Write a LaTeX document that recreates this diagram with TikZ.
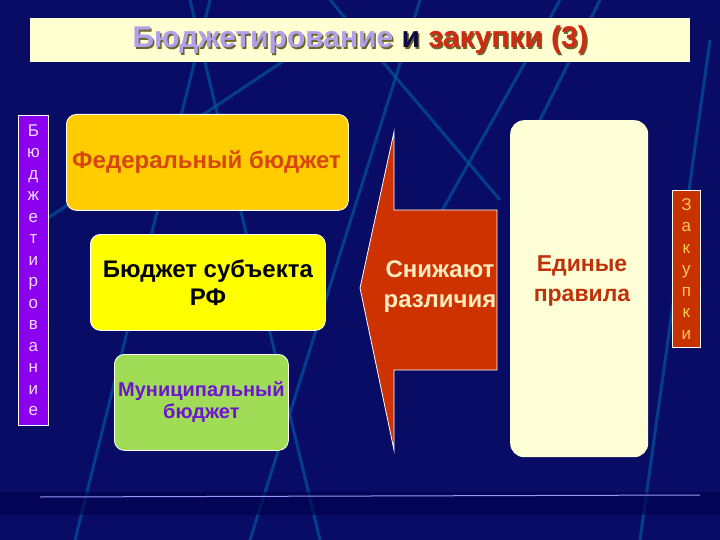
\documentclass[tikz,border=0pt]{standalone}
\usepackage{fontspec}
\setmainfont{Liberation Sans}
\begin{document}
\begin{tikzpicture}[x=1pt,y=-1pt,
  bline/.style={draw=blue!45!cyan!60!black,line width=3pt,opacity=0.7},
  rbox/.style={rounded corners=10pt,draw=white,line width=0.8pt},
  vtext/.style={font=\fontsize{17}{21.5}\selectfont,align=center}]
\fill[fill={rgb,255:red,8;green,12;blue,100}] (0,0) rectangle (720,540);
\useasboundingbox (0,0) rectangle (720,540);
% background light lines
\draw[bline] (75,540) -- (210,0);
\draw[bline] (190,0) -- (320,540);
\draw[bline] (30,230) -- (330,30);
\draw[bline] (330,0) -- (500,200);
\draw[bline] (250,540) -- (420,0);
\draw[bline] (600,0) -- (520,160);
\draw[bline] (640,540) -- (710,40);
\draw[bline] (420,250) -- (560,0);
\fill[black!70!blue,opacity=0.6] (0,492) rectangle (720,515);
\draw[blue!40!white,line width=1pt] (40,497) -- (700,495);
% title
\node[fill={rgb,255:red,255;green,255;blue,210},minimum width=660,minimum height=44,anchor=north west,inner sep=0] (title) at (30,18) {};
\node[font=\bfseries\fontsize{30}{34}\selectfont,text={rgb,255:red,110;green,100;blue,40}] (tsh) at ([shift={(1.5,1.5)}]title.center) {Бюджетирование и закупки (3)};
\node[font=\bfseries\fontsize{30}{34}\selectfont] (tt) at (title.center) {\textcolor[RGB]{175,160,235}{Бюджетирование} \textcolor[RGB]{10,10,70}{и} \textcolor[RGB]{210,40,20}{закупки (3)}};
% left bar
\node[fill={rgb,255:red,140;green,0;blue,240},draw=white,line width=0.8pt,minimum width=30,minimum height=310,anchor=north west,inner sep=0] (lb) at (18,115) {};
\node[vtext,text={rgb,255:red,240;green,220;blue,255}] at (lb.center) {Б\\ю\\д\\ж\\е\\т\\и\\р\\о\\в\\а\\н\\и\\е};
% boxes
\node[rbox,fill={rgb,255:red,255;green,204;blue,0},minimum width=282,minimum height=96,anchor=north west,inner sep=0] (fed) at (66,114) {};
\node[font=\bfseries\fontsize{24}{28}\selectfont,text={rgb,255:red,215;green,70;blue,10},anchor=west,inner sep=0] (fedt) at (72,162) {Федеральный бюджет};
\node[rbox,fill={rgb,255:red,255;green,255;blue,0},minimum width=235,minimum height=96,anchor=north west,inner sep=0,font=\bfseries\fontsize{24}{28}\selectfont,align=center] (subj) at (90,234) {Бюджет субъекта\\РФ};
\node[rbox,fill={rgb,255:red,160;green,220;blue,85},minimum width=174,minimum height=96,anchor=north west,inner sep=0,font=\bfseries\fontsize{20}{22}\selectfont,align=center,text={rgb,255:red,110;green,20;blue,210}] (mun) at (114,354) {Муниципальный\\бюджет};
% arrow
\draw[fill={rgb,255:red,205;green,50;blue,0},draw=white,line width=0.8pt] (360,288) -- (394,132) -- (394,210) -- (497,210) -- (497,370) -- (394,370) -- (394,450) -- cycle;
\node[font=\bfseries\fontsize{24}{30}\selectfont,align=center,text={rgb,255:red,255;green,235;blue,190},inner sep=0] (arr) at (440,287) {Снижают\\различия};
% right box
\node[rounded corners=14pt,fill={rgb,255:red,255;green,255;blue,215},minimum width=138,minimum height=337,anchor=north west,inner sep=0] (rules) at (510,120) {};
\node[font=\bfseries\fontsize{23}{30}\selectfont,align=center,text={rgb,255:red,190;green,50;blue,10}] (rt) at (582,281) {Единые\\правила};
% right bar
\node[fill={rgb,255:red,200;green,50;blue,0},draw=white,line width=0.8pt,minimum width=28,minimum height=157,anchor=north west,inner sep=0] (rb) at (672,190) {};
\node[vtext,text={rgb,255:red,255;green,200;blue,80}] at (rb.center) {З\\а\\к\\у\\п\\к\\и};
\end{tikzpicture}
\end{document}
